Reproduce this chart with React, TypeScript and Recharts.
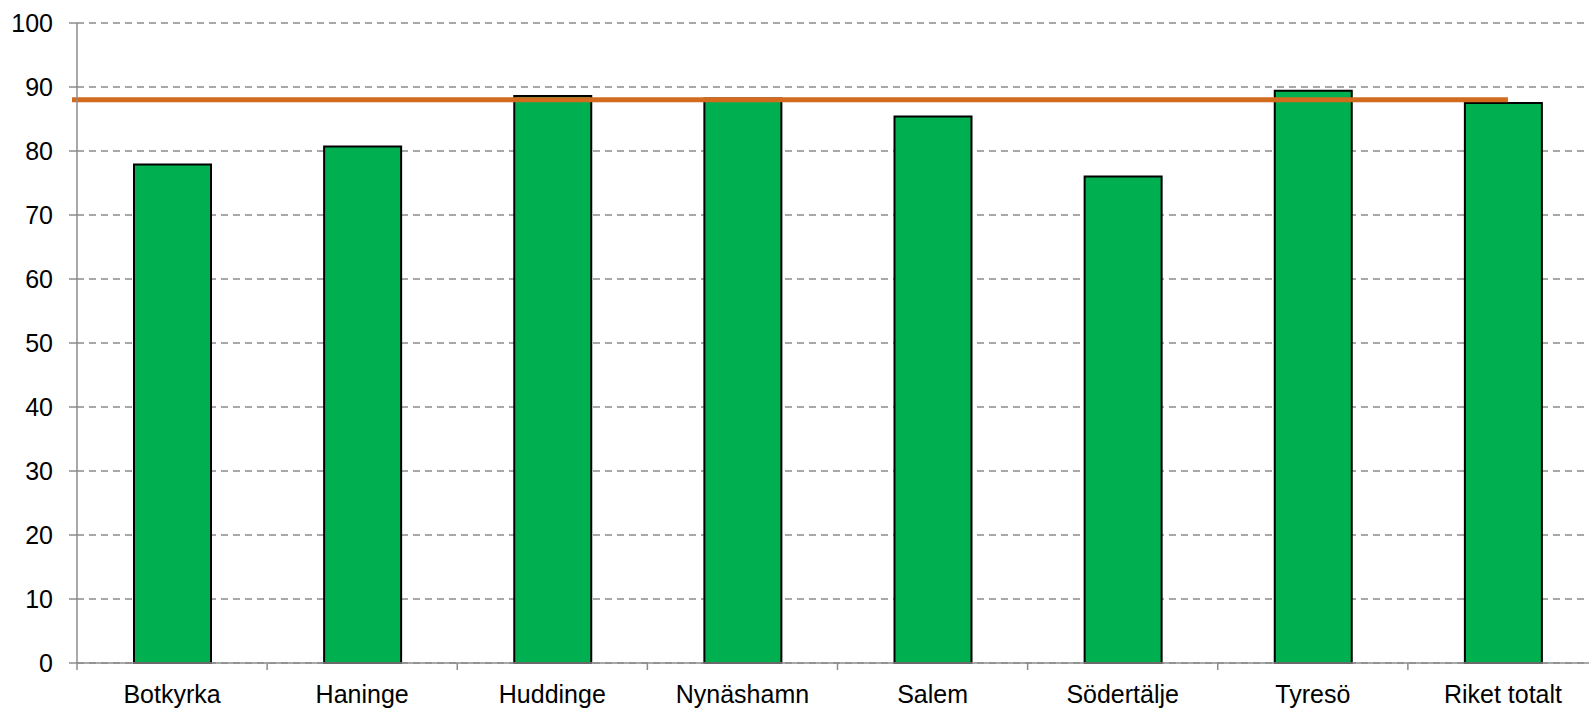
import React from "react";
import {
  Bar,
  BarChart,
  CartesianGrid,
  ReferenceLine,
  XAxis,
  YAxis,
} from "recharts";

const categories = [
  "Botkyrka",
  "Haninge",
  "Huddinge",
  "Nynäshamn",
  "Salem",
  "Södertälje",
  "Tyresö",
  "Riket totalt",
];
const values = [77.9, 80.7, 88.6, 88.2, 85.4, 76.0, 89.4, 87.5];
const riketLinje = 88;
const yTicks = [0, 10, 20, 30, 40, 50, 60, 70, 80, 90, 100];

const data = categories.map((name, i) => ({ name, value: values[i] }));

const GRAY = "#8c8c8c";
const FONT = "'Liberation Sans', Arial, sans-serif";
const FONT_SIZE = 25;

function CategoryTick(props: any) {
  const { x, y, payload } = props;
  const half = payload?.offset ?? 95;
  return (
    <g>
      <line x1={x - half} x2={x - half} y1={y} y2={y + 7} stroke={GRAY} strokeWidth={1.5} />
      <text
        x={x}
        y={y + 22}
        dy="0.71em"
        textAnchor="middle"
        fill="#000"
        fontSize={FONT_SIZE}
        fontFamily={FONT}
      >
        {payload.value}
      </text>
    </g>
  );
}

// average line: from the y axis to the centre of the last category
function RiketLine(props: any) {
  const { x1, x2, y1 } = props;
  const band = (x2 - x1) / categories.length;
  return (
    <line
      x1={x1 - 5}
      x2={x2 - band / 2 + 5}
      y1={y1}
      y2={y1}
      stroke="#d36b1f"
      strokeWidth={5}
    />
  );
}

export default function App() {
  return (
    <div
      style={{
        position: "absolute",
        left: 0,
        top: 0,
        width: 1589,
        height: 708,
        overflow: "hidden",
        background: "#fff",
      }}
    >
      <BarChart
        width={1600}
        height={708}
        data={data}
        margin={{ top: 23, right: 2, bottom: 0, left: 0 }}
      >
        <CartesianGrid
          vertical={false}
          stroke={GRAY}
          strokeWidth={1.5}
          strokeDasharray="7 5"
        />
        <XAxis
          dataKey="name"
          height={45}
          axisLine={{ stroke: GRAY, strokeWidth: 1.5 }}
          tickLine={false}
          tickSize={0}
          tickMargin={0}
          interval={0}
          tick={<CategoryTick />}
        />
        <YAxis
          width={77}
          domain={[0, 100]}
          ticks={yTicks}
          interval={0}
          axisLine={{ stroke: GRAY, strokeWidth: 1.5 }}
          tickLine={{ stroke: GRAY, strokeWidth: 1.5 }}
          tickSize={8}
          tickMargin={16}
          tick={{ fill: "#000", fontSize: FONT_SIZE, fontFamily: FONT }}
        />
        <Bar
          dataKey="value"
          fill="#00b050"
          stroke="#000"
          strokeWidth={2}
          barSize={77}
          isAnimationActive={false}
        />
        <ReferenceLine y={riketLinje} shape={<RiketLine />} />
      </BarChart>
    </div>
  );
}
